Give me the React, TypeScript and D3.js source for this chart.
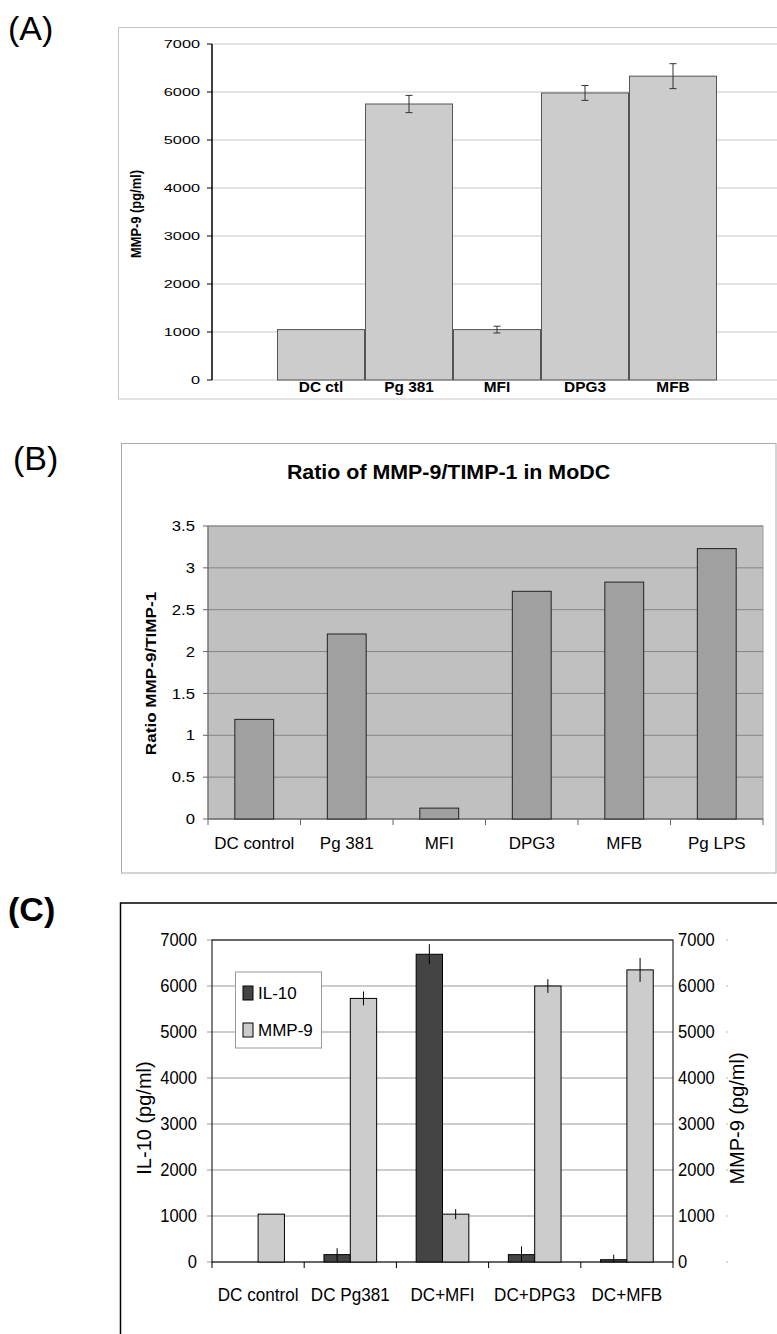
import React from "react";
import * as d3 from "d3";

// (A) MMP-9 secretion
const catsA = ["DC ctl", "Pg 381", "MFI", "DPG3", "MFB"];
const mmp9A = [1050, 5750, 1050, 5980, 6330];
const errA = [0, 180, 70, 155, 260];

// (B) ratio MMP-9 / TIMP-1
const catsB = ["DC control", "Pg 381", "MFI", "DPG3", "MFB", "Pg LPS"];
const ratioB = [1.19, 2.21, 0.13, 2.72, 2.83, 3.23];
const ticksB = [0, 0.5, 1, 1.5, 2, 2.5, 3, 3.5];

// (C) IL-10 and MMP-9
const catsC = ["DC control", "DC Pg381", "DC+MFI", "DC+DPG3", "DC+MFB"];
const seriesC = ["IL-10", "MMP-9"];
const il10C = [0, 160, 6690, 160, 50];
const il10ErrC = [0, 140, 220, 180, 110];
const mmp9C = [1040, 5730, 1040, 6000, 6350];
const mmp9ErrC = [0, 150, 110, 150, 260];

const font = "'Liberation Sans', Arial, sans-serif";

function T(props: any) {
  const { x, y, sx = 1, sy = 1, rot = 0, size, weight = "normal", anchor = "start", children } = props;
  return (
    <text
      transform={`translate(${x},${y}) rotate(${rot}) scale(${sx},${sy})`}
      fontFamily={font}
      fontSize={size}
      fontWeight={weight}
      textAnchor={anchor}
      fill="#000"
    >
      {children}
    </text>
  );
}

function PanelA() {
  const y = d3.scaleLinear().domain([0, 7000]).range([380, 44]);
  const x = d3.scaleBand().domain(catsA).range([277, 717]).padding(0);
  const ticks = y.ticks(7);
  return (
    <g>
      <T x={8} y={40} size={34}>(A)</T>
      <rect x={118.5} y={27.5} width={700} height={371.5} fill="none" stroke="#c8c8c8" />
      {ticks.map((t) => (
        <g key={t}>
          <line x1={212} x2={777} y1={y(t)} y2={y(t)} stroke="#c8c8c8" />
          <line x1={207} x2={212} y1={y(t)} y2={y(t)} stroke="#000" />
          <T x={200} y={y(t) + 3.7} size={10.5} sx={1.55} anchor="end">{t}</T>
        </g>
      ))}
      <line x1={212} x2={212} y1={44} y2={380} stroke="#000" strokeWidth={1.5} />
      {catsA.map((c, i) => (
        <g key={c}>
          <rect
            x={x(c)! + 0.5}
            y={y(mmp9A[i])}
            width={x.bandwidth() - 1}
            height={y(0) - y(mmp9A[i])}
            fill="#cccccc"
            stroke="#555"
          />
          {errA[i] > 0 && (
            <g stroke="#333">
              <line x1={x(c)! + x.bandwidth() / 2} x2={x(c)! + x.bandwidth() / 2} y1={y(mmp9A[i] - errA[i])} y2={y(mmp9A[i] + errA[i])} />
              <line x1={x(c)! + x.bandwidth() / 2 - 3.5} x2={x(c)! + x.bandwidth() / 2 + 3.5} y1={y(mmp9A[i] - errA[i])} y2={y(mmp9A[i] - errA[i])} />
              <line x1={x(c)! + x.bandwidth() / 2 - 3.5} x2={x(c)! + x.bandwidth() / 2 + 3.5} y1={y(mmp9A[i] + errA[i])} y2={y(mmp9A[i] + errA[i])} />
            </g>
          )}
          <T x={x(c)! + x.bandwidth() / 2} y={392} size={14} weight="bold" sx={1.1} anchor="middle">{c}</T>
        </g>
      ))}
      <T x={141} y={214} rot={-90} size={12.5} weight="bold" sx={1.03} sy={1.15} anchor="middle">MMP-9 (pg/ml)</T>
    </g>
  );
}

function PanelB() {
  const y = d3.scaleLinear().domain([0, 3.5]).range([819, 526]);
  const slot = d3.scaleBand().domain(catsB).range([208, 763]);
  const x = d3.scaleBand().domain(catsB).range([208, 763]).paddingInner(0.58).paddingOuter(0.29);
  return (
    <g>
      <T x={13} y={470} size={34}>(B)</T>
      <rect x={121.5} y={443.5} width={654.5} height={429.5} fill="#fff" stroke="#aaa" />
      <T x={448.5} y={479} size={20} weight="bold" sx={1.07} anchor="middle">Ratio of MMP-9/TIMP-1 in MoDC</T>
      <rect x={208} y={526} width={555} height={293} fill="#c0c0c0" stroke="#999" />
      {ticksB.map((t) => (
        <g key={t}>
          <line x1={208} x2={763} y1={y(t)} y2={y(t)} stroke="#858585" />
          <line x1={203} x2={208} y1={y(t)} y2={y(t)} stroke="#666" />
          <T x={195} y={y(t) + 5.2} size={14.5} sx={1.15} anchor="end">{t}</T>
        </g>
      ))}
      <line x1={208} x2={208} y1={526} y2={819} stroke="#666" />
      <line x1={208} x2={763} y1={819} y2={819} stroke="#666" />
      {[...catsB.map((c) => slot(c)!), 763].map((v, i) => (
        <line key={i} x1={v} x2={v} y1={819} y2={825} stroke="#666" />
      ))}
      {catsB.map((c, i) => (
        <g key={c}>
          <rect x={x(c)!} y={y(ratioB[i])} width={x.bandwidth()} height={y(0) - y(ratioB[i])} fill="#a0a0a0" stroke="#222" />
          <T x={slot(c)! + slot.bandwidth() / 2} y={849} size={16.5} sx={1.03} anchor="middle">{c}</T>
        </g>
      ))}
      <T x={156} y={673.5} rot={-90} size={15} weight="bold" sx={1.14} anchor="middle">Ratio MMP-9/TIMP-1</T>
    </g>
  );
}

function PanelC() {
  const y = d3.scaleLinear().domain([0, 7000]).range([1262, 940]);
  const yR = d3.scaleLinear().domain([0, 7000]).range([1262, 940]);
  const x = d3.scaleBand().domain(catsC).range([212, 673]);
  const inner = d3.scaleBand().domain(seriesC).range([0, x.bandwidth()]).paddingOuter(0.75);
  const ticks = y.ticks(7);
  const fills = ["#444444", "#cccccc"];
  const vals = [il10C, mmp9C];
  const errs = [il10ErrC, mmp9ErrC];
  const scales = [y, yR];
  return (
    <g>
      <T x={8} y={921} size={34} weight="bold">(C)</T>
      <rect x={120.5} y={903} width={700} height={500} fill="#fff" stroke="#000" strokeWidth={1.5} />
      {ticks.map((t) => (
        <g key={t}>
          <line x1={207} x2={673} y1={y(t)} y2={y(t)} stroke="#999" />
          <T x={197} y={y(t) + 6.3} size={18} sx={0.92} anchor="end">{t}</T>
          <T x={678} y={yR(t) + 6.3} size={18} sx={0.92}>{t}</T>
          <line x1={726} x2={728} y1={yR(t)} y2={yR(t)} stroke="#bbb" />
        </g>
      ))}
      <rect x={212} y={940} width={461} height={322} fill="none" stroke="#000" />
      {[...catsC.map((c) => x(c)!), 673].map((v, i) => (
        <line key={i} x1={v} x2={v} y1={1262} y2={1268} stroke="#000" />
      ))}
      {catsC.map((c, i) => (
        <g key={c}>
          {seriesC.map((s, k) => {
            const v = vals[k][i];
            const e = errs[k][i];
            const sc = scales[k];
            const bx = x(c)! + inner(s)!;
            const cx = bx + inner.bandwidth() / 2;
            return (
              <g key={s}>
                {v > 0 && (
                  <rect x={bx} y={sc(v)} width={inner.bandwidth()} height={sc(0) - sc(v)} fill={fills[k]} stroke="#000" />
                )}
                {e > 0 && (
                  <line x1={cx} x2={cx} y1={sc(Math.max(0, v - e))} y2={sc(v + e)} stroke="#000" />
                )}
              </g>
            );
          })}
          <T x={x(c)! + x.bandwidth() / 2} y={1301} size={18} sx={0.95} anchor="middle">{c}</T>
        </g>
      ))}
      <T x={151} y={1118} rot={-90} size={20} anchor="middle">IL-10 (pg/ml)</T>
      <T x={744} y={1118.5} rot={-90} size={20} anchor="middle">MMP-9 (pg/ml)</T>
      <rect x={235.5} y={972} width={86} height={76} fill="#fff" stroke="#999" />
      {seriesC.map((s, k) => (
        <g key={s}>
          <rect x={243} y={986 + k * 37} width={10} height={14} fill={fills[k]} stroke="#000" />
          <T x={258} y={999 + k * 37} size={17}>{s}</T>
        </g>
      ))}
    </g>
  );
}

export default function App() {
  return (
    <svg
      width={777}
      height={1334}
      style={{ position: "absolute", left: 0, top: 0, background: "#fff" }}
    >
      <rect width={777} height={1334} fill="#fff" />
      <PanelA />
      <PanelB />
      <PanelC />
    </svg>
  );
}
